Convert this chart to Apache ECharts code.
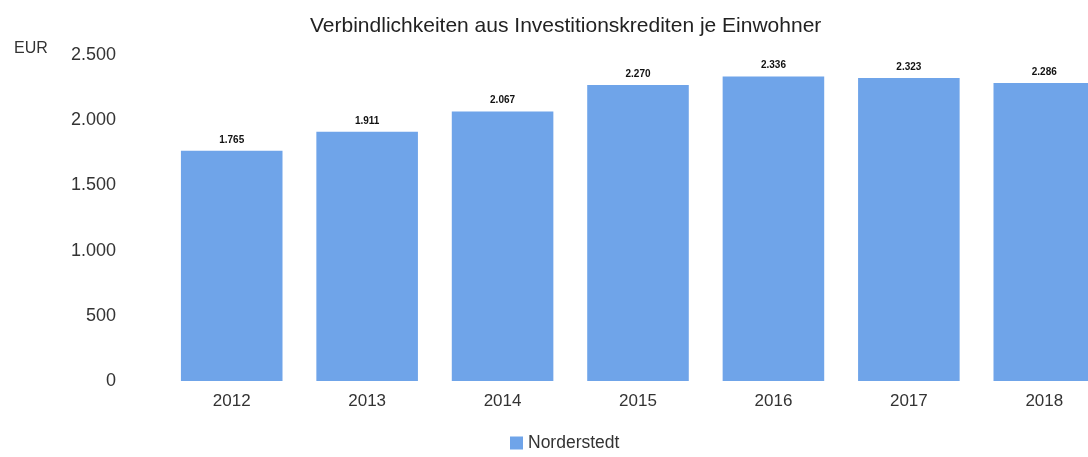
<!DOCTYPE html>
<html>
<head>
<meta charset="utf-8">
<script src="https://cdn.jsdelivr.net/npm/echarts@6/dist/echarts.min.js"></script>
<style>
  html, body { margin: 0; padding: 0; background: #fff; }
  #main { width: 1088px; height: 457px; }
</style>
</head>
<body>
<div id="main"></div>
<script>
  var years = ['2012', '2013', '2014', '2015', '2016', '2017', '2018']
  var values = [1765, 1911, 2067, 2270, 2336, 2323, 2286]
  var seriesName = 'Norderstedt'
  var titleText = 'Verbindlichkeiten aus Investitionskrediten je Einwohner'

  function fmt(v) {
    return String(v).replace(/\B(?=(\d{3})+(?!\d))/g, '.')
  }

  var chart = echarts.init(document.getElementById('main'))
  var font = 'Liberation Sans, Arial, sans-serif'

  chart.setOption({
    animation: false,
    textStyle: { fontFamily: font },
    title: [
      {
        text: titleText,
        left: 305,
        top: 11,
        textStyle: { fontSize: 21, fontWeight: 'normal', color: '#222', fontFamily: font }
      },
      {
        text: 'EUR',
        left: 9,
        top: 36,
        textStyle: { fontSize: 16, fontWeight: 'normal', color: '#333', fontFamily: font }
      }
    ],
    legend: {
      bottom: 0,
      left: 505,
      itemWidth: 13,
      itemHeight: 13,
      icon: 'rect',
      textStyle: { fontSize: 17.5, color: '#333', fontFamily: font },
      data: [seriesName]
    },
    grid: {
      left: 164,
      right: -24,
      top: 55,
      bottom: 76,
      containLabel: false,
      outerBoundsMode: 'none'
    },
    xAxis: {
      type: 'category',
      data: years,
      axisLine: { show: false },
      axisTick: { show: false },
      axisLabel: { fontSize: 17, color: '#333', margin: 12 }
    },
    yAxis: {
      type: 'value',
      min: 0,
      max: 2500,
      interval: 500,
      splitLine: { show: false },
      axisLine: { show: false },
      axisTick: { show: false },
      axisLabel: {
        fontSize: 18,
        color: '#333',
        margin: 48,
        formatter: fmt
      }
    },
    series: [
      {
        name: seriesName,
        type: 'bar',
        data: values,
        barCategoryGap: '25%',
        itemStyle: { color: '#6fa4e9' },
        label: {
          show: true,
          position: 'top',
          distance: 6,
          fontSize: 10,
          fontWeight: 'bold',
          color: '#111',
          formatter: function (p) { return fmt(p.value) }
        }
      }
    ]
  })
</script>
</body>
</html>
